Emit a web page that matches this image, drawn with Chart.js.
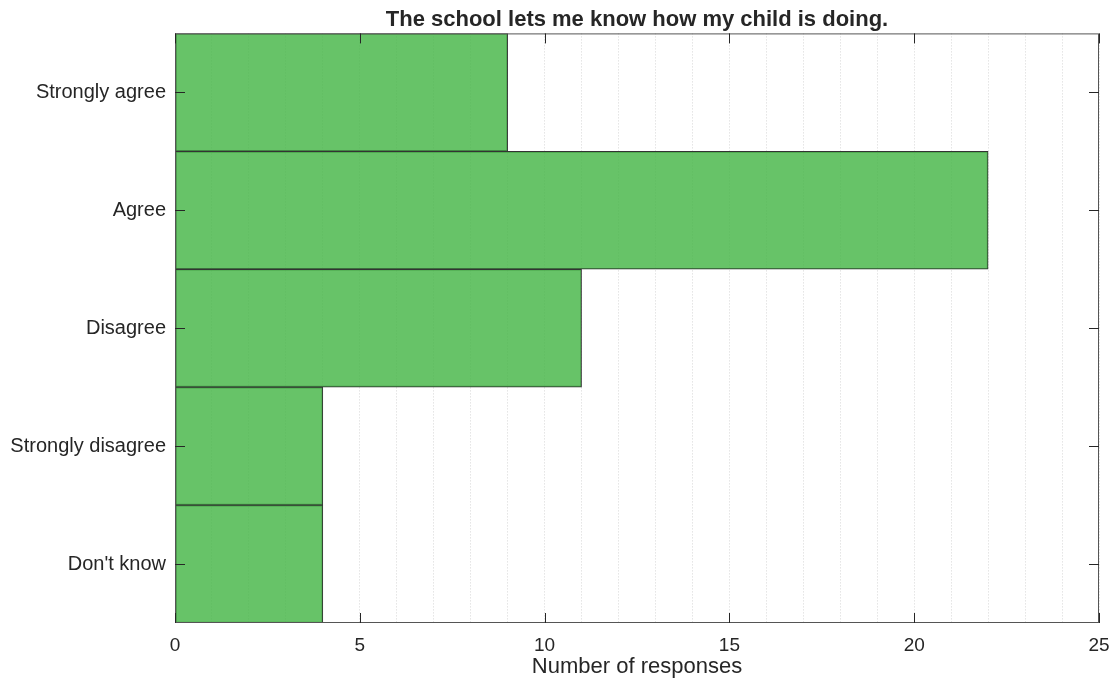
<!DOCTYPE html>
<html>
<head>
<meta charset="utf-8">
<script src="https://cdn.jsdelivr.net/npm/chart.js@4"></script>
<style>
  html, body { margin: 0; padding: 0; background: #fff; }
  #wrap { width: 1115px; height: 682px; }
</style>
</head>
<body>
<div id="wrap"><canvas id="surveyChart"></canvas></div>
<script>
const categories = ['Strongly agree', 'Agree', 'Disagree', 'Strongly disagree', "Don't know"];
const responses = [9, 22, 11, 4, 4];
const xTicks = [0, 5, 10, 15, 20, 25];

const FONT = 'Liberation Sans, Arial, Helvetica, sans-serif';

// MATLAB style box with inward ticks
const frameTicks = {
    id: 'frameTicks',
    afterDraw(chart) {
        const { ctx, chartArea: a, scales: { x, y } } = chart;
        ctx.save();
        ctx.strokeStyle = '#555';
        ctx.lineWidth = 1;
        ctx.strokeRect(a.left + 0.5, a.top + 0.5, a.right - a.left - 1, a.bottom - a.top - 1);
        ctx.strokeStyle = '#262626';
        ctx.beginPath();
        xTicks.forEach(v => {
            const px = Math.round(x.getPixelForValue(v)) + 0.5;
            ctx.moveTo(px, a.bottom); ctx.lineTo(px, a.bottom - 10);
            ctx.moveTo(px, a.top); ctx.lineTo(px, a.top + 10);
        });
        categories.forEach((c, i) => {
            const py = Math.round(y.getPixelForValue(i)) + 0.5;
            ctx.moveTo(a.left, py); ctx.lineTo(a.left + 10, py);
            ctx.moveTo(a.right, py); ctx.lineTo(a.right - 10, py);
        });
        ctx.stroke();
        ctx.restore();
    }
};

new Chart(document.getElementById('surveyChart'), {
    type: 'bar',
    data: {
        labels: categories,
        datasets: [{
            label: 'Number of responses',
            data: responses,
            backgroundColor: 'rgba(76, 184, 78, 0.85)',
            borderColor: '#333',
            borderWidth: 1,
            borderSkipped: false,
            barPercentage: 1,
            categoryPercentage: 1
        }]
    },
    options: {
        indexAxis: 'y',
        responsive: true,
        maintainAspectRatio: false,
        animation: false,
        layout: { padding: { left: 0, right: 16, top: 0, bottom: 0 } },
        plugins: {
            legend: { display: false },
            tooltip: { enabled: false },
            title: {
                display: true,
                fullSize: false,
                text: 'The school lets me know how my child is doing.',
                color: '#262626',
                font: { family: FONT, size: 22, weight: 'bold' },
                padding: { top: 7, bottom: 0 }
            }
        },
        scales: {
            x: {
                min: 0,
                max: 25,
                ticks: {
                    stepSize: 1,
                    autoSkip: false,
                    maxRotation: 0,
                    color: '#262626',
                    font: { family: FONT, size: 19 },
                    padding: 11,
                    callback: v => (v % 5 === 0 ? v : '')
                },
                grid: {
                    color: '#d6d6d6',
                    lineWidth: 1,
                    drawTicks: false,
                    tickLength: 0
                },
                border: { display: false, dash: [1, 2] },
                title: {
                    display: true,
                    text: 'Number of responses',
                    color: '#262626',
                    font: { family: FONT, size: 22 },
                    padding: { top: 0, bottom: 2 }
                },
                afterFit(scale) {
                    scale.height = 59;
                    scale.paddingLeft = 0;
                    scale.paddingRight = 0;
                }
            },
            y: {
                ticks: {
                    color: '#262626',
                    font: { family: FONT, size: 20 },
                    padding: 9
                },
                grid: { display: false, drawTicks: false },
                border: { display: false },
                afterFit(scale) { scale.width = 175; }
            }
        }
    },
    plugins: [frameTicks]
});
</script>
</body>
</html>
